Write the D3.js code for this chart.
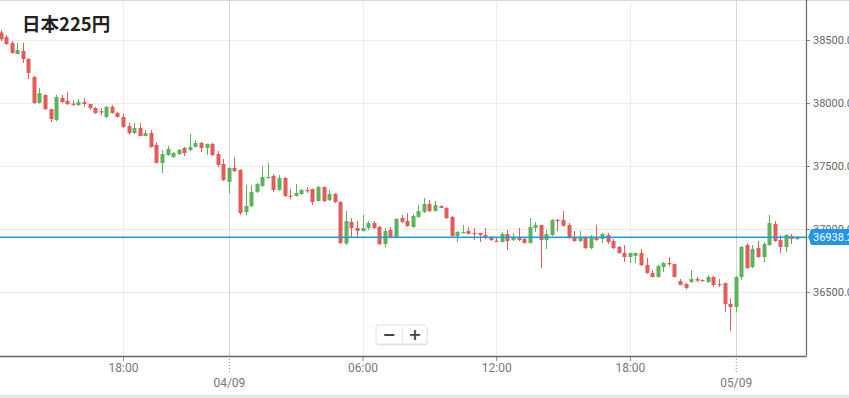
<!DOCTYPE html>
<html>
<head>
<meta charset="utf-8">
<script src="https://cdn.jsdelivr.net/npm/d3@7"></script>
<style>
html, body { margin: 0; padding: 0; background: #fff; overflow: hidden; }
svg { display: block; }
</style>
</head>
<body>
<svg id="chart" width="849" height="398"></svg>
<script>
// 15 minute candles, left to right
const opens = [
	38560, 38524, 38476, 38389, 38413, 38349, 38206, 38000, 38063, 37952,
	37865, 38040, 38016, 37995, 37984, 38008, 37992, 37960, 37935, 37889,
	37968, 37921, 37889, 37817, 37762, 37802, 37738, 37762, 37667, 37524,
	37587, 37571, 37595, 37643, 37627, 37651, 37683, 37643, 37675, 37595,
	37516, 37373, 37484, 37468, 37135, 37183, 37294, 37341, 37408, 37421,
	37310, 37405, 37265, 37262, 37278, 37310, 37317, 37222, 37333, 37230,
	37278, 37214, 36885, 37056, 37008, 36984, 37008, 37048, 37016, 36881,
	36992, 36937, 37087, 37064, 37016, 37095, 37135, 37198, 37143, 37183,
	37167, 37095, 36944, 36968, 36984, 36968, 36968, 36952, 36929, 36908,
	36897, 36960, 36913, 36937, 36921, 36889, 37008, 37032, 36913, 36952,
	37072, 37072, 37032, 36937, 36905, 36929, 36849, 36937, 36921, 36952,
	36905, 36857, 36810, 36778, 36786, 36810, 36714, 36651, 36619, 36698,
	36730, 36722, 36587, 36563, 36579, 36603, 36595, 36579, 36619, 36563,
	36571, 36405, 36381, 36619, 36873, 36698, 36849, 36778, 36873, 37040,
	36913, 36857, 36944, 36921
]
const highs = [
	38580, 38540, 38492, 38476, 38476, 38357, 38215, 38119, 38070, 37955,
	38063, 38063, 38087, 38024, 38032, 38040, 37995, 37968, 37960, 37976,
	37984, 37929, 37913, 37841, 37841, 37841, 37786, 37786, 37690, 37627,
	37659, 37611, 37635, 37651, 37754, 37706, 37690, 37678, 37683, 37619,
	37556, 37490, 37571, 37475, 37349, 37349, 37365, 37500, 37524, 37437,
	37429, 37413, 37317, 37357, 37315, 37333, 37322, 37341, 37338, 37310,
	37286, 37222, 37143, 37087, 37064, 37111, 37064, 37064, 37024, 37008,
	37016, 37085, 37111, 37127, 37119, 37190, 37246, 37230, 37222, 37185,
	37175, 37103, 36984, 37032, 37016, 37008, 36970, 37008, 36944, 36937,
	36976, 36992, 36968, 37008, 36929, 37087, 37056, 37035, 36992, 37080,
	37080, 37143, 37048, 36984, 36984, 36944, 36952, 37032, 36968, 36968,
	36921, 36865, 36873, 36812, 36812, 36841, 36770, 36675, 36714, 36738,
	36778, 36726, 36603, 36571, 36675, 36619, 36598, 36635, 36627, 36603,
	36575, 36452, 36627, 36865, 36889, 36873, 36905, 36897, 37111, 37064,
	36952, 36960, 36960, 36944
]
const lows = [
	38490, 38460, 38390, 38385, 38317, 38190, 37995, 37995, 37945, 37849,
	37857, 38000, 37984, 37976, 37976, 37968, 37944, 37913, 37905, 37881,
	37915, 37885, 37802, 37746, 37754, 37735, 37735, 37645, 37520, 37445,
	37579, 37563, 37587, 37579, 37619, 37648, 37611, 37587, 37579, 37492,
	37381, 37278, 37452, 37111, 37111, 37175, 37286, 37335, 37400, 37294,
	37302, 37255, 37238, 37258, 37270, 37286, 37190, 37218, 37214, 37222,
	37206, 36881, 36873, 36929, 36929, 36980, 36992, 37000, 36873, 36857,
	36929, 36929, 37048, 37016, 37010, 37090, 37127, 37135, 37140, 37165,
	37080, 36940, 36897, 36965, 36958, 36913, 36897, 36921, 36905, 36895,
	36893, 36833, 36905, 36905, 36885, 36885, 36976, 36690, 36841, 36944,
	36984, 37020, 36921, 36897, 36897, 36841, 36841, 36905, 36889, 36881,
	36841, 36802, 36738, 36730, 36730, 36706, 36643, 36615, 36615, 36659,
	36706, 36615, 36552, 36524, 36571, 36579, 36585, 36571, 36540, 36540,
	36341, 36190, 36341, 36595, 36683, 36690, 36770, 36738, 36865, 36897,
	36810, 36817, 36881, 36913
]
const closes = [
	38505, 38468, 38397, 38421, 38349, 38238, 38000, 38079, 37952, 37873,
	38048, 38008, 37992, 37986, 38008, 37992, 37960, 37921, 37925, 37968,
	37921, 37889, 37810, 37762, 37802, 37738, 37762, 37651, 37524, 37595,
	37635, 37603, 37627, 37603, 37651, 37683, 37643, 37675, 37587, 37508,
	37389, 37484, 37460, 37127, 37183, 37294, 37357, 37413, 37413, 37310,
	37405, 37262, 37256, 37286, 37310, 37300, 37214, 37333, 37222, 37278,
	37214, 36889, 37064, 37008, 36984, 37008, 37048, 37008, 36881, 36984,
	36937, 37080, 37056, 37024, 37103, 37143, 37198, 37143, 37190, 37167,
	37087, 36944, 36976, 36976, 36960, 36960, 36952, 36929, 36913, 36900,
	36960, 36905, 36937, 36913, 36889, 37016, 37032, 36913, 36960, 37072,
	37064, 37024, 36929, 36905, 36929, 36849, 36937, 36913, 36960, 36897,
	36849, 36810, 36778, 36810, 36810, 36714, 36651, 36619, 36706, 36730,
	36722, 36619, 36556, 36532, 36603, 36590, 36588, 36619, 36556, 36556,
	36405, 36381, 36619, 36857, 36690, 36841, 36778, 36881, 37048, 36905,
	36857, 36952, 36921, 36938.2
]

const priceTicks = [36500, 37000, 37500, 38000, 38500]
const timeTickIdx = [22, 41, 65, 89, 113, 132]
const timeTickLabels = ['18:00', '04/09', '06:00', '12:00', '18:00', '05/09']
const dayStart = [false, true, false, false, false, true]
const lastPrice = 36938.2
const title = '日本225円'

const width = 849
const height = 398
const plot = { left: 0, right: 806, top: 0, bottom: 356 }
const up = '#5cb35c'
const down = '#e35b5b'

const candles = opens.map((o, i) => ({ i, o, h: highs[i], l: lows[i], c: closes[i] }))

const x = d3.scaleLinear().domain([0, candles.length - 1]).range([0.5, 797])
const y = d3.scaleLinear().domain([36500, 38500]).range([292, 40])

const svg = d3.select('#chart')

svg.append('rect').attr('width', width).attr('height', height).attr('fill', '#fff')
svg.append('rect').attr('x', 0).attr('y', 395).attr('width', width).attr('height', 3).attr('fill', '#e6e6e6')
svg.append('line').attr('x1', 0).attr('x2', width).attr('y1', 0.5).attr('y2', 0.5)
	.attr('stroke', '#d9d9d9')

// grid
const grid = svg.append('g')
grid.selectAll('.hgrid').data(priceTicks).enter().append('line')
	.attr('x1', plot.left).attr('x2', plot.right)
	.attr('y1', d => Math.round(y(d)) + 0.5).attr('y2', d => Math.round(y(d)) + 0.5)
	.attr('stroke', '#ebebeb')
grid.selectAll('.vgrid').data(timeTickIdx).enter().append('line')
	.attr('x1', d => Math.round(x(d)) + 0.5).attr('x2', d => Math.round(x(d)) + 0.5)
	.attr('y1', plot.top).attr('y2', plot.bottom)
	.attr('stroke', (d, k) => dayStart[k] ? '#d6d6d6' : '#ececec')

// candles
const bodyW = 4
const g = svg.append('g')
g.selectAll('.wick').data(candles).enter().append('line')
	.attr('x1', d => Math.round(x(d.i)) + 0.5).attr('x2', d => Math.round(x(d.i)) + 0.5)
	.attr('y1', d => y(d.h)).attr('y2', d => y(d.l))
	.attr('stroke', d => d.c >= d.o ? up : down)
	.attr('stroke-width', 1)
g.selectAll('.body').data(candles).enter().append('rect')
	.attr('x', d => Math.round(x(d.i)) - bodyW / 2 + 0.5)
	.attr('y', d => y(Math.max(d.o, d.c)))
	.attr('width', bodyW)
	.attr('height', d => Math.max(1.2, Math.abs(y(d.o) - y(d.c))))
	.attr('fill', d => d.c >= d.o ? up : down)

// last price line
const ly = Math.round(y(lastPrice))
svg.append('rect').attr('x', plot.left).attr('y', ly - 0.5)
	.attr('width', plot.right - plot.left).attr('height', 1.6)
	.attr('fill', '#269bd0')

// right axis
const yAxis = svg.append('g')
	.attr('transform', `translate(${plot.right}, 0)`)
	.call(d3.axisRight(y).tickValues(priceTicks).tickFormat(d3.format('.1f')).tickSize(4).tickPadding(3))
yAxis.select('.domain').remove()
yAxis.selectAll('line').attr('stroke', '#888')
yAxis.selectAll('text').attr('fill', '#666').style('font', '11px Roboto, sans-serif')

// bottom axis
const xAxis = svg.append('g')
	.attr('transform', `translate(0, ${plot.bottom})`)
	.call(d3.axisBottom(x).tickValues(timeTickIdx)
		.tickFormat((d, k) => timeTickLabels[k]).tickSize(5).tickPadding(6))
xAxis.select('.domain').remove()
xAxis.selectAll('.tick line').attr('stroke', '#888')
	.attr('y2', (d, k) => dayStart[k] ? 16 : 5)
	.attr('stroke-dasharray', (d, k) => dayStart[k] ? '1,2' : null)
xAxis.selectAll('.tick text').attr('fill', '#777')
	.attr('y', (d, k) => dayStart[k] ? 22 : 7)
	.style('font', '12px Roboto, sans-serif')

svg.append('line').attr('x1', 0).attr('x2', plot.right + 0.5)
	.attr('y1', plot.bottom + 0.5).attr('y2', plot.bottom + 0.5)
	.attr('stroke', '#666').attr('stroke-width', 1.5)
svg.append('line').attr('x1', plot.right + 0.5).attr('x2', plot.right + 0.5)
	.attr('y1', 0).attr('y2', plot.bottom)
	.attr('stroke', '#666').attr('stroke-width', 1.2)

// last price tag
const tag = svg.append('g').attr('transform', `translate(808, ${ly - 8})`)
tag.append('path').attr('d', 'M0,8 L4,0 H44 V16 H4 Z').attr('fill', '#2196e8')
tag.append('rect').attr('x', 2).attr('width', 45).attr('height', 16).attr('rx', 3).attr('fill', '#2196e8')
tag.append('text').attr('x', 5).attr('y', 12).text(d3.format('.1f')(lastPrice))
	.attr('fill', '#fff').style('font', '11px Roboto, sans-serif')

// title
svg.append('text').attr('x', 22).attr('y', 31).text(title)
	.attr('fill', '#222')
	.style('font', 'bold 18.5px "Noto Sans CJK JP", "Noto Sans", sans-serif')

// zoom buttons
const zb = svg.append('g').attr('transform', 'translate(376, 325)')
zb.append('rect').attr('x', 0.5).attr('y', 1.5).attr('width', 51).attr('height', 19).attr('rx', 2).attr('fill', '#e4e4e4')
zb.append('rect').attr('width', 51).attr('height', 19).attr('rx', 2).attr('fill', '#fff').attr('stroke', '#e2e2e2')
zb.append('line').attr('x1', 26.5).attr('x2', 26.5).attr('y1', 2).attr('y2', 17).attr('stroke', '#e6e6e6')
zb.selectAll('.zbtn').data(['−', '+']).enter().append('text')
	.attr('x', (d, k) => 13 + k * 26).attr('y', 15)
	.attr('text-anchor', 'middle')
	.text(d => d)
	.attr('fill', '#444')
	.style('font', 'bold 16px "DejaVu Sans", sans-serif')
</script>
</body>
</html>
